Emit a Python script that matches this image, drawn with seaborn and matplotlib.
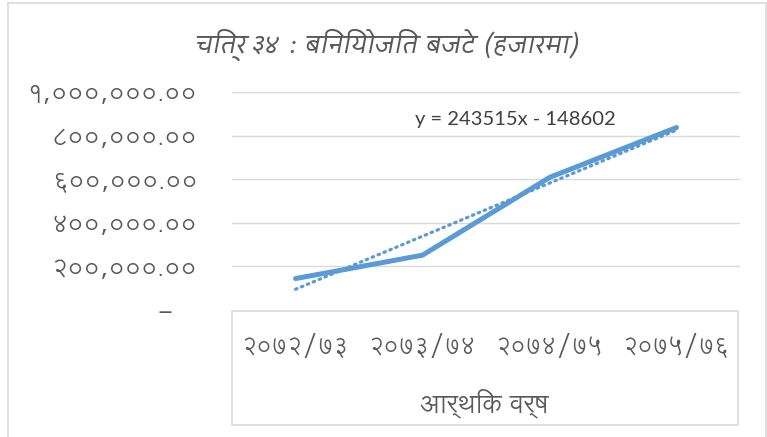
import matplotlib
matplotlib.use("Agg")
import matplotlib.pyplot as plt
from matplotlib.patches import Rectangle
import seaborn as sns
import numpy as np
import pandas as pd

# ---- data ----
categories = ["२०७२/७३", "२०७३/७४", "२०७४/७५", "२०७५/७६"]
budget = [144180, 251500, 608000, 837060]
ytick_values = [0, 200000, 400000, 600000, 800000, 1000000]
ytick_labels = ["-   ", "२००,०००.००", "४००,०००.००", "६००,०००.००", "८००,०००.००", "१,०००,०००.००"]
title_text = "चित्र ३४ : बिनियोजित बजेट (हजारमा)"
xlabel_text = "आर्थिक वर्ष"
equation_text = "y = 243515x - 148602"

sns.set_theme(style="white")
DEVA = ["Lohit Devanagari", "Noto Sans Devanagari", "DejaVu Sans"]
plt.rcParams["font.family"] = DEVA

W, H = 767, 437
fig = plt.figure(figsize=(W / 100, H / 100), dpi=100)
ax = fig.add_axes([232 / W, 1 - 310 / H, (740 - 232) / W, (310 - 92) / H])

df = pd.DataFrame({"x": np.arange(len(categories)), "budget": budget})
blue = "#5B9BD5"
grey = "#595959"

sns.lineplot(data=df, x="x", y="budget", ax=ax, color=blue, linewidth=3.6,
             solid_capstyle="round")
sns.regplot(data=df, x="x", y="budget", ax=ax, ci=None, scatter=False,
            truncate=True, line_kws=dict(color=blue, linewidth=2.3,
                                          linestyle=(0, (0.5, 1.5)),
                                          dash_capstyle="round"))

ax.set_xlim(-0.5, len(categories) - 0.5)
ax.set_ylim(0, 1000000)
ax.set_yticks(ytick_values)
ax.set_yticklabels(ytick_labels)
ax.set_xticks(np.arange(len(categories)))
ax.set_xticklabels(categories)
ax.set_xlabel("")
ax.set_ylabel("")
for v in ytick_values[1:]:
    ax.axhline(v, color="#D9D9D9", linewidth=1.0, zorder=0)
for s in ax.spines.values():
    s.set_visible(False)
ax.tick_params(axis="y", length=0, pad=25, labelsize=18, labelcolor=grey)
ax.tick_params(axis="x", length=0, pad=18, labelsize=17, labelcolor=grey)
ax.set_facecolor("none")

# box around category axis area and outer chart border
fig.patches.append(Rectangle((232 / W, 1 - 425 / H), (738 - 232) / W, (425 - 311) / H,
                             transform=fig.transFigure, fill=False,
                             edgecolor="#D9D9D9", linewidth=1.2))
fig.patches.append(Rectangle((8 / W, -0.05), (766 - 8) / W, 1.05 - 3 / H,
                             transform=fig.transFigure, fill=False,
                             edgecolor="#D9D9D9", linewidth=1.2))

fig.text(388 / W, 1 - 45 / H, title_text, ha="center", va="center",
         fontsize=21, color=grey, style="italic",
         family=["Cambay", "Lohit Devanagari", "DejaVu Sans"])
fig.text(484 / W, 1 - 405 / H, xlabel_text, ha="center", va="center",
         fontsize=19, color=grey)
fig.text(515 / W, 1 - 120 / H, equation_text, ha="center", va="center",
         fontsize=14.5, color="#404040", family=["Lato", "DejaVu Sans"])

fig.savefig("out.png", dpi=100)
